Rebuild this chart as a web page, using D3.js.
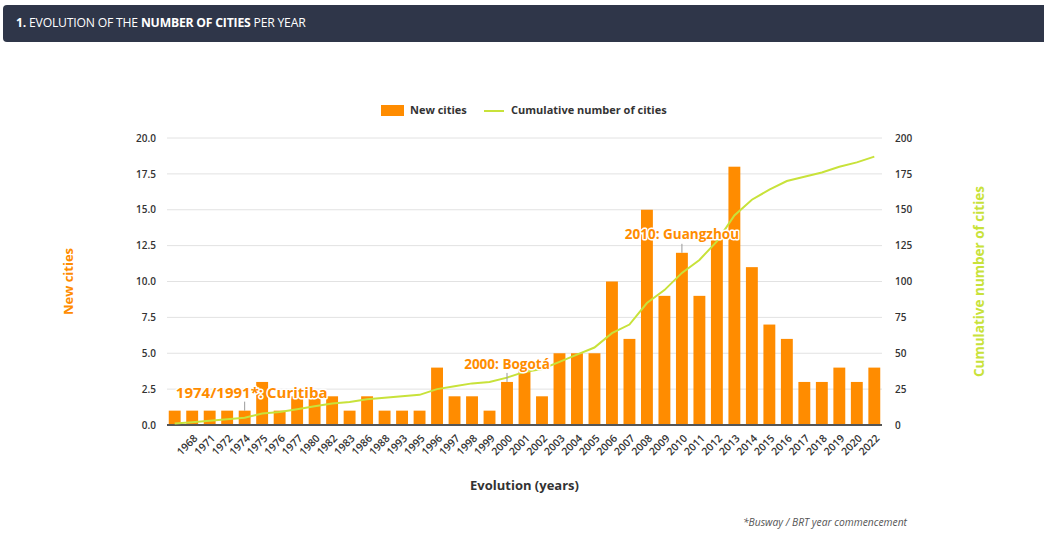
<!DOCTYPE html>
<html>
<head>
<meta charset="utf-8">
<script src="https://cdn.jsdelivr.net/npm/d3@7"></script>
<style>
  body { margin: 0; background: #fff; }
  svg { display: block; font-family: "Open Sans", sans-serif; }
</style>
</head>
<body>
<script>
// DATA
// first bar has no visible year label in the source chart
var years = ["", "1968","1971","1972","1974","1975","1976","1977","1980","1982","1983",
             "1986","1988","1993","1995","1996","1997","1998","1999","2000","2001",
             "2002","2003","2004","2005","2006","2007","2008","2009","2010","2011",
             "2012","2013","2014","2015","2016","2017","2018","2019","2020","2022"];
var newCities = [1, 1,1,1,1,3,1,2,2,2,1,
                 2,1,1,1,4,2,2,1,3,4,
                 2,5,5,5,10,6,15,9,12,9,
                 13,18,11,7,6,3,3,4,3,4];
var leftTicks = [0, 2.5, 5, 7.5, 10, 12.5, 15, 17.5, 20];
var rightTicks = [0, 25, 50, 75, 100, 125, 150, 175, 200];
var notes = [
  {year: "1974", text: "1974/1991*: Curitiba"},
  {year: "2000", text: "2000: Bogotá"},
  {year: "2010", text: "2010: Guangzhou"}
];

var cumulative = [];
var total = 0;
newCities.forEach(function(v){ total += v; cumulative.push(total); });

var width = 1044, height = 537;
var orange = "#ff8c00", green = "#c8e23a";
var plotL = 167, plotR = 882, plotT = 138, plotB = 425;

var svg = d3.select("body").append("svg")
  .attr("width", width).attr("height", height)
  .attr("viewBox", "0,0," + width + "," + height);

//HEADER BAR
svg.append("rect")
  .attr("x", 3).attr("y", 5).attr("width", 1050).attr("height", 37)
  .attr("rx", 4).attr("fill", "#2f3649");
var head = svg.append("text").attr("x", 16).attr("y", 27)
  .attr("font-size", "12.2px").attr("fill", "#fff").attr("letter-spacing", "-0.2");
head.append("tspan").attr("font-weight", "700").text("1. ");
head.append("tspan").text("EVOLUTION OF THE ");
head.append("tspan").attr("font-weight", "700").text("NUMBER OF CITIES");
head.append("tspan").text(" PER YEAR");

//SCALES
var x = d3.scaleBand().domain(years).range([plotL, plotR]).paddingInner(0.32).paddingOuter(0.1);
var yL = d3.scaleLinear().domain([0, 20]).range([plotB, plotT]);
var yR = d3.scaleLinear().domain([0, 200]).range([plotB, plotT]);

//GRID
svg.append("g").selectAll("line.grid").data(leftTicks.slice(1)).enter().append("line")
  .attr("class", "grid")
  .attr("x1", plotL).attr("x2", plotR)
  .attr("y1", d => yL(d)).attr("y2", d => yL(d))
  .attr("stroke", "#e2e2e2").attr("stroke-width", 1);

//LEFT AXIS
var axL = svg.append("g").attr("transform", "translate(" + plotL + ",0)")
  .call(d3.axisLeft(yL).tickValues(leftTicks).tickFormat(d3.format(".1f")).tickSize(0).tickPadding(11));
axL.select(".domain").remove();
axL.selectAll("text").attr("font-size", "10px").attr("font-weight", "600")
  .attr("fill", "#333").attr("font-family", "Open Sans, sans-serif");

//RIGHT AXIS
var axR = svg.append("g").attr("transform", "translate(" + plotR + ",0)")
  .call(d3.axisRight(yR).tickValues(rightTicks).tickSize(0).tickPadding(13));
axR.select(".domain").remove();
axR.selectAll("text").attr("font-size", "10px").attr("font-weight", "600")
  .attr("fill", "#333").attr("font-family", "Open Sans, sans-serif");

//BARS
svg.append("g").selectAll("rect.bar").data(newCities).enter().append("rect")
  .attr("class", "bar")
  .attr("x", (d, i) => x(years[i]))
  .attr("width", x.bandwidth())
  .attr("y", d => yL(d))
  .attr("height", d => yL(0) - yL(d))
  .attr("fill", orange);

//BOTTOM AXIS
var axB = svg.append("g").attr("transform", "translate(0," + plotB + ")")
  .call(d3.axisBottom(x).tickSize(0).tickPadding(0));
axB.select(".domain").attr("stroke", "#555").attr("stroke-width", 2)
  .attr("d", "M" + plotL + ",0H" + plotR);
axB.selectAll("text")
  .attr("font-size", "10.5px").attr("font-weight", "600").attr("fill", "#333")
  .attr("font-family", "Open Sans, sans-serif")
  .attr("text-anchor", "end")
  .attr("y", 0).attr("dy", 0)
  .attr("transform", "translate(6,14) rotate(-45)");

//CUMULATIVE LINE
var line = d3.line()
  .x((d, i) => x(years[i]) + x.bandwidth() / 2)
  .y(d => yR(d));
svg.append("path").attr("d", line(cumulative))
  .attr("fill", "none").attr("stroke", green).attr("stroke-width", 2);

//ANNOTATIONS
notes.forEach(function(n){
  var i = years.indexOf(n.year);
  var px = x(n.year) + x.bandwidth() / 2;
  var py = yL(newCities[i]);
  svg.append("line")
    .attr("x1", px).attr("x2", px).attr("y1", py - 9).attr("y2", py)
    .attr("stroke", "#999").attr("stroke-width", 1);
  svg.append("text").text(n.text)
    .attr("x", px + (n.year == "1974" ? 7 : 0)).attr("y", py - 17)
    .attr("text-anchor", "middle").attr("dominant-baseline", "middle")
    .attr("font-size", n.year == "1974" ? "15px" : "13.5px").attr("font-weight", "700")
    .attr("fill", orange)
    .attr("stroke", "#fff").attr("stroke-width", 3).attr("paint-order", "stroke")
    .attr("stroke-linejoin", "round");
});

//LEGEND
var lg = svg.append("g");
lg.append("rect").attr("x", 381).attr("y", 105).attr("width", 23).attr("height", 11)
  .attr("fill", orange);
lg.append("text").attr("x", 410).attr("y", 111).attr("dominant-baseline", "middle")
  .attr("font-size", "11px").attr("font-weight", "700").attr("fill", "#333")
  .text("New cities");
lg.append("line").attr("x1", 484).attr("x2", 504).attr("y1", 111).attr("y2", 111)
  .attr("stroke", green).attr("stroke-width", 2);
lg.append("text").attr("x", 511).attr("y", 111).attr("dominant-baseline", "middle")
  .attr("font-size", "11px").attr("font-weight", "700").attr("fill", "#333")
  .text("Cumulative number of cities");

//AXIS TITLES
svg.append("text").text("New cities")
  .attr("transform", "translate(73," + ((plotT + plotB) / 2) + ") rotate(-90)")
  .attr("text-anchor", "middle").attr("font-size", "13px").attr("font-weight", "700")
  .attr("fill", orange);
svg.append("text").text("Cumulative number of cities")
  .attr("transform", "translate(984," + ((plotT + plotB) / 2) + ") rotate(-90)")
  .attr("text-anchor", "middle").attr("font-size", "13.5px").attr("font-weight", "700")
  .attr("fill", green);
svg.append("text").text("Evolution (years)")
  .attr("x", (plotL + plotR) / 2).attr("y", 490)
  .attr("text-anchor", "middle").attr("font-size", "13px").attr("font-weight", "700")
  .attr("fill", "#333");

//FOOTNOTE
svg.append("text").text("*Busway / BRT year commencement")
  .attr("x", 907).attr("y", 526).attr("text-anchor", "end")
  .attr("font-size", "10.3px").attr("font-style", "italic").attr("fill", "#555");
</script>
</body>
</html>
